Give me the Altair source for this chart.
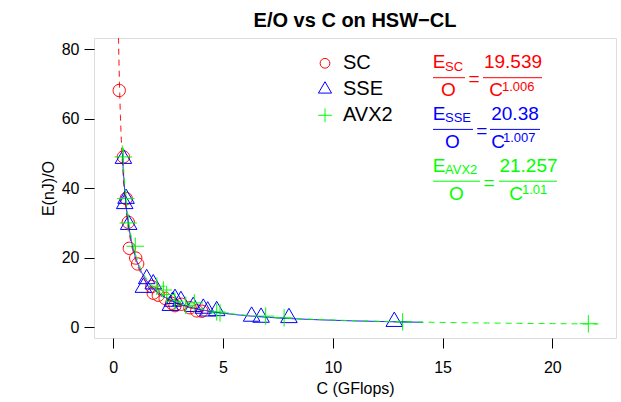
import altair as alt
import numpy as np
import pandas as pd

FONT = "Liberation Sans"

series_names = ["SC", "SSE", "AVX2"]
series_colors = ["#FF0000", "#0000FF", "#00FF00"]

sc_c = [0.27, 0.46, 0.59, 0.68, 0.73, 1.02, 1.11, 1.75, 1.82, 2.05, 2.36, 2.66, 2.81, 3.10, 3.49, 3.80, 4.03]
sc_e = [68.1, 49.0, 37.0, 30.2, 22.7, 19.9, 18.2, 11.7, 9.8, 9.2, 8.3, 6.9, 6.2, 6.6, 5.6, 4.7, 4.6]

sse_c = [0.46, 0.52, 0.58, 0.70, 1.37, 1.52, 1.82, 2.60, 2.70, 2.81, 3.08, 3.64, 4.10, 4.30, 4.71, 6.30, 6.73, 8.00, 12.80]
sse_e = [48.5, 35.5, 37.0, 29.5, 11.4, 13.9, 12.4, 6.2, 7.4, 8.2, 7.6, 5.9, 5.4, 4.6, 4.7, 3.1, 2.8, 2.7, 1.6]

avx_c = [0.46, 0.57, 0.68, 1.00, 1.98, 2.28, 2.43, 2.80, 3.30, 3.69, 4.71, 4.86, 6.94, 7.78, 13.18, 21.64]
avx_e = [49.0, 37.0, 30.0, 23.3, 11.8, 10.7, 9.4, 7.5, 6.3, 7.0, 4.4, 4.1, 3.2, 2.7, 1.55, 1.0]

fit_a = [19.539, 20.38, 21.257]
fit_b = [1.006, 1.007, 1.01]
fit_from = [0.22, 0.41, 0.41]
fit_to = [4.4, 14.1, 22.1]
fit_dash = [[6, 5], [1, 0], [6, 5]]

x_ticks = [0, 5, 10, 15, 20]
y_ticks = [0, 20, 40, 60, 80]

rows = []
for name, cs, es in zip(series_names, [sc_c, sse_c, avx_c], [sc_e, sse_e, avx_e]):
    for c, e in zip(cs, es):
        rows.append({"C": c, "E": e, "series": name})
pts = pd.DataFrame(rows)

xscale = alt.Scale(domain=[-0.88, 22.9], nice=False, zero=False)
yscale = alt.Scale(domain=[-3.1, 83.2], nice=False, zero=False)

shape_paths = [
    "M0.707,0A0.707,0.707,0,1,1,-0.707,0A0.707,0.707,0,1,1,0.707,0Z",
    "M0,-1.099L0.952,0.549L-0.952,0.549Z",
    "M-1,0L1,0M0,-1L0,1",
]

points = alt.Chart(pts).mark_point(filled=False, size=303, strokeWidth=1, opacity=1).encode(
    x=alt.X("C:Q", scale=xscale, axis=alt.Axis(
        values=x_ticks, domain=False, grid=False, tickSize=10, tickColor="black",
        tickWidth=1, labelFontSize=16, labelFont=FONT, labelColor="black",
        labelPadding=11, title="C (GFlops)", titleFont=FONT, titleFontSize=16,
        titleFontWeight="normal", titleColor="black", titleY=50,
        titleBaseline="middle")),
    y=alt.Y("E:Q", scale=yscale, axis=alt.Axis(
        values=y_ticks, domain=False, grid=False, tickSize=10, tickColor="black",
        tickWidth=1, labelFontSize=16, labelFont=FONT, labelColor="black",
        labelPadding=5, labelAngle=0, labelAlign="right", labelBaseline="middle",
        title="E(nJ)/O", titleFont=FONT, titleFontSize=16,
        titleFontWeight="normal", titleColor="black", titleX=-46, titleY=150,
        titleAngle=-90, titleAlign="center", titleBaseline="middle")),
    color=alt.Color("series:N", scale=alt.Scale(domain=series_names, range=series_colors), legend=None),
    shape=alt.Shape("series:N", scale=alt.Scale(domain=series_names, range=shape_paths), legend=None),
    order=alt.Order("idx:Q"),
).transform_calculate(idx="indexof(['SC','SSE','AVX2'], datum.series)")

layers = [points]
for name, col, a, b, f, t, d in zip(series_names, series_colors, fit_a, fit_b, fit_from, fit_to, fit_dash):
    cgrid = np.geomspace(f, t, 400)
    df = pd.DataFrame({"C": cgrid, "E": a / cgrid ** b})
    layers.append(
        alt.Chart(df).mark_line(color=col, strokeWidth=1, strokeDash=d, clip=True).encode(
            x=alt.X("C:Q", scale=xscale), y=alt.Y("E:Q", scale=yscale)
        )
    )

one = alt.Data(values=[{}])


def txt(s, x, y, color, size=19, align="center"):
    return alt.Chart(one).mark_text(
        text=s, color=color, fontSize=size, font=FONT, align=align, baseline="middle"
    ).encode(x=alt.value(x), y=alt.value(y))


def bar(x1, x2, y, color):
    return alt.Chart(one).mark_rule(color=color, strokeWidth=1).encode(
        x=alt.value(x1), x2=alt.value(x2), y=alt.value(y)
    )


# legend (no frame, R style)
for i, (name, col, shp) in enumerate(zip(series_names, series_colors, shape_paths)):
    ly = 25.3 + 26 * i
    layers.append(
        alt.Chart(one).mark_point(filled=False, strokeWidth=1, opacity=1, size=190,
                                  shape=shp, color=col).encode(x=alt.value(231), y=alt.value(ly))
    )
    layers.append(txt(name, 249, ly, "black", 20, "left"))

eqs = [
    ("SC", "19.539", "1.006", series_colors[0], 0, 354.5, 380, (339, 371), 419, (389, 448), 402, 408),
    ("SSE", "20.38", "1.007", series_colors[1], 51.7, 358.5, 387.7, (339, 379), 421, (396, 446), 404, 409),
    ("AVX2", "21.257", "1.01", series_colors[2], 103.5, 362.5, 395, (339, 386), 434.5, (405, 463), 422, 428),
]
for sub, coef, expo, col, dy, ox, eqx, lb, cx, rb, Cx, ex in eqs:
    layers += [
        txt("E", 345, 24 + dy, col),
        txt(sub, 351, 28.5 + dy, col, 13, "left"),
        bar(lb[0], lb[1], 39.7 + dy, col),
        txt("O", ox, 52 + dy, col),
        txt("=", eqx, 41 + dy, col),
        txt(coef, cx, 24 + dy, col),
        bar(rb[0], rb[1], 39.7 + dy, col),
        txt("C", Cx, 52 + dy, col),
        txt(expo, ex, 48.5 + dy, col, 13, "left"),
    ]

chart = alt.layer(*layers).properties(
    width=522, height=300,
    title=alt.Title("E/O vs C on HSW\u2212CL", fontSize=20, fontWeight="bold", font=FONT,
                    color="black", anchor="middle", frame="group", baseline="alphabetic",
                    offset=9, dy=18),
    autosize=alt.AutoSizeParams(type="none"),
    padding={"left": 94, "top": 38, "right": 5, "bottom": 64},
).configure_view(stroke="black", strokeWidth=1).configure(background="white")

chart.save("out.html", embed_options={"renderer": "svg", "actions": False})
